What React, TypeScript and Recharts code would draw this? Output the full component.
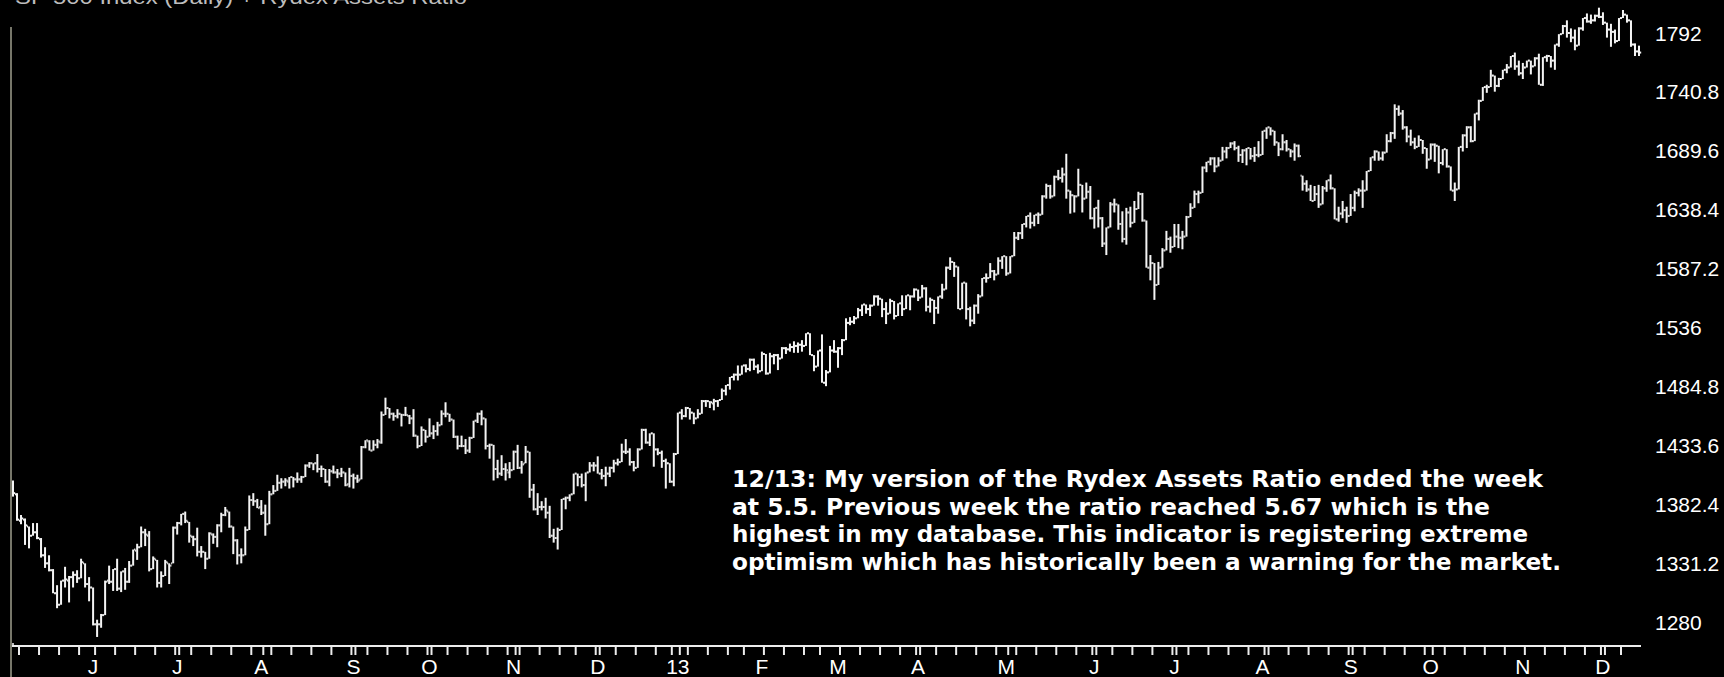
import React from 'react';
import { ComposedChart, Bar, XAxis, YAxis } from 'recharts';

const W = 1724;
const H = 677;

// calendar of the plotted trading days
const startDate = '2012-05-03';
const endDate = '2013-12-13';
const marketHolidays = [
  '2012-05-28', '2012-07-04', '2012-09-03', '2012-10-29', '2012-10-30', '2012-11-22', '2012-12-25',
  '2013-01-01', '2013-01-21', '2013-02-18', '2013-03-29', '2013-05-27', '2013-07-04', '2013-09-02', '2013-11-28',
];
// month labels, January shows the year
const monthLabels = ['13', 'F', 'M', 'A', 'M', 'J', 'J', 'A', 'S', 'O', 'N', 'D'];
const yTicks = [1280, 1331.2, 1382.4, 1433.6, 1484.8, 1536, 1587.2, 1638.4, 1689.6, 1740.8, 1792];
const yDomain = [1259.14, 1820.69];
const titleText = 'SP 500 Index (Daily)  + Rydex Assets Ratio';
const noteLines = [
  '12/13: My version of the Rydex Assets Ratio ended the week',
  'at 5.5. Previous week the ratio reached 5.67 which is the',
  'highest in my database. This indicator is registering extreme',
  'optimism which has historically been a warning for the market.',
];

const opens = [
  1402,1391,1368,1369,1363,1355,1358,1352,1338,1331,1325,1305,1295,1316,1316,1319,1321,1318,1331,1313,
  1310,1278,1278,1286,1316,1315,1326,1309,1324,1315,1329,1342,1345,1358,1355,1326,1334,1314,1320,1331,1331,
  1362,1366,1374,1367,1354,1352,1341,1341,1335,1356,1354,1364,1373,1376,1363,1351,1338,1338,1360,1386,1385,
  1380,1375,1365,1391,1394,1401,1402,1402,1406,1404,1404,1406,1416,1418,1418,1413,1413,1402,1411,1410,1409,1410,1400,
  1407,1405,1404,1432,1437,1429,1434,1436,1460,1466,1461,1459,1461,1460,1459,1457,1442,1433,1447,
  1441,1444,1446,1451,1461,1461,1456,1441,1433,1433,1429,1440,1455,1461,1457,1433,1434,1413,1409,1413,1410,
  1412,1428,1414,1418,1428,1395,1378,1380,1380,1375,1355,1353,1360,1387,1388,1391,1409,1406,1399,1410,1416,
  1416,1409,1407,1409,1414,1418,1419,1428,1428,1419,1414,1430,1447,1436,1444,1430,1427,1420,1418,1402,
  1426,1462,1459,1466,1462,1457,1461,1472,1472,1470,1472,1473,1481,1486,1493,1495,1495,1503,1500,1508,1502,
  1498,1513,1496,1511,1512,1509,1518,1517,1519,1520,1521,1520,1531,1512,1502,1516,1488,1497,1516,
  1515,1518,1525,1540,1541,1544,1551,1556,1552,1555,1563,1561,1552,1548,1559,1546,1557,1552,1564,1563,
  1569,1562,1570,1554,1560,1553,1563,1569,1588,1593,1589,1552,1575,1552,1542,1555,1563,1579,1579,1585,1582,1594,
  1598,1583,1598,1614,1618,1626,1633,1627,1634,1634,1650,1659,1650,1667,1666,1669,1655,1651,1650,1660,1648,1654,
  1631,1640,1631,1609,1623,1643,1643,1626,1613,1636,1627,1639,1652,1629,1588,1592,1573,1588,1603,1613,
  1606,1615,1614,1615,1632,1640,1652,1653,1675,1680,1683,1676,1681,1689,1692,1696,1692,1686,1690,1692,1685,1686,
  1686,1707,1710,1707,1697,1691,1697,1691,1689,1694,1668,1661,1656,1646,1652,1643,1657,1664,1657,1630,1635,1638,
  1633,1640,1653,1655,1655,1672,1684,1689,1683,1688,1698,1705,1726,1722,1710,1702,1697,1693,1699,1692,
  1682,1695,1694,1679,1691,1676,1655,1656,1693,1703,1710,1698,1722,1733,1745,1745,1755,1746,1752,1760,1762,1772,1763,
  1757,1762,1768,1763,1770,1747,1771,1772,1768,1782,1791,1798,1792,1788,1781,1796,1805,1802,1803,1807,
  1806,1801,1795,1793,1785,1805,1808,1803,1782,1776,
];
const highs = [
  1403,1392,1373,1370,1363,1366,1366,1353,1345,1338,1326,1312,1316,1328,1320,1324,1325,1335,1331,1319,
  1310,1282,1287,1316,1329,1326,1335,1324,1327,1333,1343,1348,1363,1361,1359,1337,1334,1324,1334,1331,1363,
  1367,1374,1376,1367,1355,1362,1346,1341,1358,1357,1365,1375,1380,1376,1363,1352,1344,1363,1390,1392,1387,
  1386,1382,1394,1399,1408,1405,1405,1406,1406,1410,1407,1417,1419,1418,1426,1416,1413,1413,1416,1413,1414,1410,1414,
  1409,1408,1433,1438,1438,1438,1439,1463,1475,1466,1462,1465,1461,1467,1460,1465,1442,1450,1447,
  1457,1451,1454,1464,1471,1461,1456,1442,1442,1439,1441,1455,1462,1464,1457,1435,1434,1421,1425,1418,1419,
  1429,1434,1420,1433,1428,1400,1392,1385,1388,1381,1361,1362,1387,1389,1391,1409,1409,1409,1410,1419,1419,
  1424,1413,1415,1415,1421,1422,1435,1439,1431,1420,1431,1448,1448,1444,1444,1431,1429,1422,1418,1427,
  1462,1465,1467,1466,1462,1465,1473,1473,1472,1474,1473,1483,1486,1493,1496,1503,1503,1504,1509,1509,1504,
  1515,1513,1514,1513,1513,1519,1519,1522,1524,1523,1525,1531,1531,1512,1516,1530,1499,1520,1525,
  1519,1526,1544,1545,1546,1553,1556,1556,1556,1564,1564,1561,1558,1561,1559,1557,1564,1564,1564,1570,
  1569,1573,1571,1562,1560,1563,1574,1589,1597,1593,1589,1575,1575,1554,1556,1565,1579,1583,1592,1586,1597,1598,
  1598,1598,1619,1619,1626,1633,1636,1634,1636,1651,1661,1660,1668,1673,1675,1687,1655,1651,1674,1660,1662,1659,
  1640,1647,1632,1623,1645,1648,1643,1637,1640,1641,1646,1654,1653,1629,1599,1592,1593,1605,1620,1615,
  1626,1626,1620,1633,1644,1655,1655,1676,1680,1684,1684,1684,1693,1693,1697,1698,1694,1691,1692,1692,1693,1698,
  1707,1710,1710,1707,1697,1704,1699,1691,1696,1695,1668,1664,1660,1659,1660,1659,1664,1669,1657,1641,1646,1641,
  1652,1655,1657,1664,1672,1684,1690,1689,1689,1704,1706,1730,1729,1725,1711,1708,1701,1703,1699,1692,
  1696,1696,1694,1691,1691,1676,1662,1693,1704,1711,1711,1722,1734,1745,1747,1760,1755,1753,1760,1765,1772,1775,1768,
  1766,1768,1768,1771,1774,1771,1773,1772,1782,1791,1799,1803,1796,1795,1797,1805,1809,1808,1808,1814,
  1810,1801,1800,1795,1805,1812,1808,1803,1783,1781,
];
const lows = [
  1389,1368,1365,1347,1344,1355,1352,1336,1327,1324,1305,1292,1295,1310,1297,1310,1314,1318,1310,1298,
  1277,1267,1275,1286,1313,1307,1307,1306,1308,1314,1329,1334,1345,1346,1324,1326,1310,1310,1320,1313,1331,
  1356,1364,1366,1349,1346,1337,1336,1326,1335,1348,1345,1358,1372,1362,1339,1330,1331,1338,1360,1381,1379,
  1373,1355,1365,1391,1394,1396,1398,1396,1397,1401,1401,1406,1414,1412,1410,1406,1401,1398,1409,1405,1406,1398,1397,
  1396,1401,1404,1431,1429,1429,1431,1435,1460,1457,1455,1457,1450,1459,1452,1441,1431,1433,1436,
  1441,1439,1442,1451,1458,1454,1440,1430,1432,1426,1427,1440,1453,1451,1430,1422,1403,1405,1407,1403,1405,
  1412,1413,1409,1418,1388,1377,1373,1377,1370,1353,1349,1343,1360,1378,1385,1391,1398,1397,1385,1410,1411,
  1409,1404,1398,1406,1410,1416,1419,1426,1416,1411,1414,1430,1435,1433,1415,1425,1414,1396,1401,1398,
  1426,1456,1458,1456,1452,1457,1461,1467,1466,1464,1467,1473,1477,1482,1490,1490,1495,1497,1498,1499,1496,
  1498,1495,1496,1504,1499,1509,1513,1515,1514,1514,1515,1520,1512,1498,1502,1488,1485,1497,1514,
  1501,1512,1525,1538,1539,1544,1546,1548,1546,1555,1555,1545,1539,1548,1543,1546,1546,1552,1551,1562,
  1559,1562,1550,1549,1539,1548,1561,1569,1586,1580,1552,1552,1543,1537,1539,1548,1563,1575,1579,1577,1582,1587,
  1581,1583,1598,1612,1613,1623,1622,1624,1626,1634,1648,1648,1650,1664,1662,1648,1635,1636,1650,1636,1648,1630,
  1622,1623,1606,1599,1623,1636,1621,1610,1608,1623,1627,1639,1628,1588,1577,1560,1573,1588,1603,1601,
  1606,1605,1604,1615,1632,1640,1644,1653,1671,1677,1671,1676,1681,1683,1692,1690,1680,1679,1677,1682,1680,1684,
  1686,1700,1703,1694,1685,1690,1689,1684,1681,1684,1655,1654,1646,1646,1640,1643,1654,1656,1630,1628,1631,1627,
  1633,1637,1650,1640,1655,1672,1681,1681,1681,1688,1697,1700,1720,1708,1697,1694,1691,1693,1687,1674,
  1682,1680,1670,1677,1675,1655,1646,1656,1689,1692,1697,1698,1716,1733,1740,1745,1741,1745,1752,1757,1762,1760,1755,
  1752,1762,1756,1763,1747,1746,1767,1762,1760,1780,1791,1788,1784,1777,1781,1794,1801,1800,1802,1805,
  1799,1788,1780,1783,1785,1805,1801,1780,1772,1772,
];
const closes = [
  1392,1369,1370,1364,1355,1358,1353,1338,1331,1325,1305,1295,1316,1317,1319,1321,1318,1332,1313,1310,
  1278,1278,1286,1315,1315,1326,1309,1324,1315,1329,1343,1345,1358,1356,1326,1335,1314,1320,1332,1329,1362,
  1366,1374,1368,1355,1352,1341,1341,1335,1357,1354,1364,1373,1377,1363,1351,1338,1338,1360,1386,1385,1379,
  1375,1365,1391,1394,1401,1402,1403,1406,1404,1404,1406,1416,1418,1418,1413,1413,1402,1411,1410,1409,1410,1399,1407,
  1405,1403,1432,1438,1429,1434,1437,1460,1466,1461,1459,1461,1460,1460,1457,1442,1433,1447,1441,
  1444,1446,1451,1461,1461,1456,1441,1433,1433,1429,1440,1455,1461,1457,1433,1434,1413,1409,1413,1412,1412,
  1428,1414,1417,1428,1395,1378,1380,1380,1375,1355,1353,1360,1387,1388,1391,1409,1406,1399,1410,1416,1416,
  1409,1407,1409,1414,1418,1419,1428,1428,1419,1414,1430,1447,1436,1444,1430,1427,1420,1418,1402,1426,
  1462,1459,1466,1462,1457,1461,1472,1472,1471,1472,1473,1481,1486,1493,1495,1495,1503,1500,1508,1502,1498,
  1513,1496,1511,1512,1509,1518,1517,1519,1520,1521,1520,1531,1512,1502,1516,1488,1497,1516,1515,
  1518,1525,1540,1541,1544,1551,1556,1552,1555,1563,1561,1552,1548,1559,1546,1557,1552,1564,1563,1569,
  1562,1570,1554,1560,1553,1563,1569,1588,1593,1589,1552,1575,1552,1542,1555,1563,1579,1579,1585,1582,1594,1598,
  1583,1598,1614,1618,1626,1633,1627,1634,1634,1650,1659,1650,1667,1666,1669,1655,1651,1650,1660,1648,1654,1631,
  1640,1631,1609,1623,1643,1643,1626,1613,1636,1627,1639,1652,1629,1588,1592,1573,1588,1603,1613,1606,
  1615,1614,1615,1632,1640,1652,1653,1675,1680,1683,1676,1681,1689,1692,1696,1692,1686,1690,1692,1685,1686,1686,
  1707,1710,1707,1697,1691,1697,1691,1689,1694,1685,1661,1656,1646,1652,1643,1657,1664,1657,1630,1635,1638,1633,
  1640,1653,1655,1655,1672,1684,1689,1683,1688,1698,1705,1726,1722,1710,1702,1697,1693,1699,1692,1682,
  1695,1694,1679,1691,1676,1655,1656,1693,1703,1710,1698,1722,1733,1745,1745,1755,1746,1752,1760,1762,1772,1763,1757,
  1762,1768,1763,1770,1747,1771,1772,1768,1782,1791,1798,1792,1788,1781,1796,1805,1802,1803,1807,1806,
  1801,1795,1793,1785,1805,1808,1803,1782,1776,1775,
];

const BAR = '#f4f4f4';
const AXIS = '#ececec';
const FONT = '"Liberation Sans", Arial, sans-serif';

function buildDates(): Date[] {
  const out: Date[] = [];
  const hol = new Set(marketHolidays);
  const d = new Date(startDate + 'T00:00:00Z');
  const end = new Date(endDate + 'T00:00:00Z');
  while (d.getTime() <= end.getTime()) {
    const wd = d.getUTCDay();
    const iso = d.toISOString().slice(0, 10);
    if (wd !== 0 && wd !== 6 && !hol.has(iso)) out.push(new Date(d.getTime()));
    d.setUTCDate(d.getUTCDate() + 1);
  }
  return out;
}

const dates = buildDates();
const n = Math.min(dates.length, opens.length, highs.length, lows.length, closes.length);

const data = Array.from({ length: n }, (_, i) => ({
  i,
  o: opens[i],
  h: highs[i],
  l: lows[i],
  c: closes[i],
  hl: [lows[i], highs[i]],
}));

const weekEnds = new Set<number>();
const monthStarts = new Map<number, string>();
const DAY = 86400000;
for (let i = 0; i < n; i++) {
  const d = dates[i];
  if (i < n - 1) {
    const nd = dates[i + 1];
    if (nd.getUTCDay() <= d.getUTCDay() || nd.getTime() - d.getTime() >= 7 * DAY) weekEnds.add(i);
  }
  if (i > 0 && dates[i - 1].getUTCMonth() !== d.getUTCMonth()) {
    monthStarts.set(i, monthLabels[d.getUTCMonth()]);
  }
}

const OhlcShape = (props: any) => {
  const { x, y, width, height, payload } = props;
  if (x == null || y == null || !payload) return null;
  const top = Math.min(y, y + height);
  const bot = Math.max(y, y + height);
  const span = payload.h - payload.l;
  const py = (v: number) => (span > 0 ? top + ((payload.h - v) / span) * (bot - top) : top);
  const cx = x + width / 2;
  return (
    <g fill={BAR}>
      <rect x={cx - 1} y={top} width={2} height={Math.max(bot - top, 1)} />
      <rect x={cx - 2} y={py(payload.o) - 1} width={1} height={2} />
      <rect x={cx + 1} y={py(payload.c) - 1} width={1.2} height={2} />
    </g>
  );
};

const XTick = (props: any) => {
  const { x, y, payload } = props;
  const i = payload.value;
  const label = monthStarts.get(i);
  const isWeek = weekEnds.has(i);
  if (!isWeek && label === undefined) return null;
  return (
    <g>
      <line x1={x + 2} x2={x + 2} y1={y} y2={y + 9} stroke={AXIS} strokeWidth={2} />
      {label !== undefined && (
        <text x={x} y={y + 28} textAnchor="middle" fill="#ffffff" fontFamily={FONT} fontSize={21}>
          {label}
        </text>
      )}
    </g>
  );
};

const YTick = (props: any) => {
  const { x, y, payload } = props;
  return (
    <text x={x} y={y} dy="0.36em" textAnchor="start" fill="#ffffff" fontFamily={FONT} fontSize={21}>
      {String(payload.value)}
    </text>
  );
};

const noteWidths = [811, 758, 796, 829];
const noteBaselines = [487, 514.5, 542, 569.5];

export default function App() {
  return (
    <div style={{ position: 'absolute', left: 0, top: 0, width: W, height: H, background: '#000', overflow: 'hidden' }}>
      <ComposedChart
        width={W}
        height={H}
        data={data}
        margin={{ top: 0, right: 0, bottom: 0, left: 11 }}
        barCategoryGap={0}
      >
        <XAxis
          dataKey="i"
          type="category"
          height={31}
          interval={0}
          tick={<XTick />}
          tickLine={false}
          tickSize={0}
          tickMargin={0}
          axisLine={{ stroke: AXIS, strokeWidth: 2 }}
        />
        <YAxis
          orientation="right"
          width={83}
          type="number"
          domain={yDomain}
          allowDataOverflow
          ticks={yTicks}
          interval={0}
          tick={<YTick />}
          tickLine={false}
          tickSize={0}
          tickMargin={14}
          axisLine={false}
        />
        <Bar dataKey="hl" shape={<OhlcShape />} isAnimationActive={false} />
      </ComposedChart>
      <svg width={W} height={H} style={{ position: 'absolute', left: 0, top: 0, pointerEvents: 'none' }}>
        <text x={15} y={4} fill="#bdbdbd" fontFamily={FONT} fontSize={20} textLength={452} lengthAdjust="spacingAndGlyphs">
          {titleText}
        </text>
        <line x1={11} x2={11} y1={27} y2={H} stroke="#77776a" strokeWidth={2} />
        <rect x={12} y={643} width={2} height={2} fill="#bbbbbb" />
        {noteLines.map((t, k) => (
          <text
            key={k}
            x={732}
            y={noteBaselines[k]}
            fill="#ffffff"
            fontFamily='"DejaVu Sans Condensed", "DejaVu Sans", sans-serif'
            fontWeight="bold"
            fontSize={23}
            textLength={noteWidths[k]}
            lengthAdjust="spacingAndGlyphs"
          >
            {t}
          </text>
        ))}
      </svg>
    </div>
  );
}
